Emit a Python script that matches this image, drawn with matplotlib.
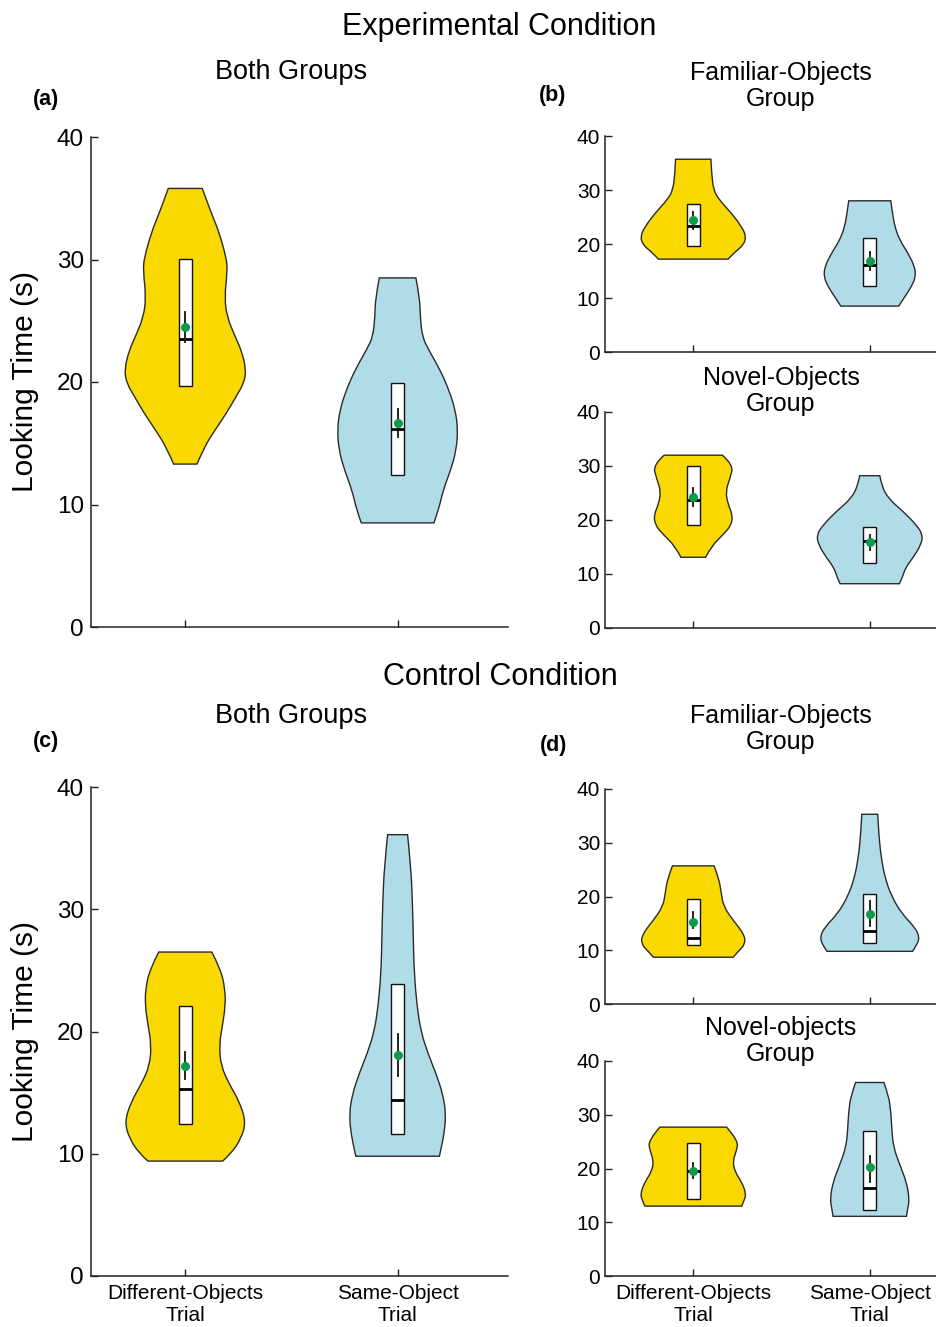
import numpy as np
import matplotlib
matplotlib.use("Agg")
import matplotlib.pyplot as plt
from matplotlib.path import Path
from matplotlib.patches import PathPatch, Rectangle

plt.rcParams['font.family'] = ['Liberation Sans', 'DejaVu Sans']

# ---------------- data ----------------
categories = ["Different-Objects\nTrial", "Same-Object\nTrial"]
yticks = [0, 10, 20, 30, 40]

# violin outlines: y-levels (s) and half-widths (x units)
a_diff_y = [13.3, 14.7, 16.0, 17.4, 18.8, 19.9, 21.0, 22.6, 23.7, 25.3, 26.9, 29.1, 30.1, 32.4, 33.7, 35.8]
a_diff_w = [0.055, 0.090, 0.137, 0.192, 0.239, 0.276, 0.287, 0.264, 0.235, 0.197, 0.185, 0.198, 0.194, 0.156, 0.124, 0.080]
a_same_y = [8.5, 9.5, 11.2, 12.8, 14.4, 16.1, 17.7, 19.3, 21.0, 22.6, 23.7, 25.3, 26.9, 28.5]
a_same_w = [0.171, 0.192, 0.215, 0.250, 0.276, 0.284, 0.272, 0.243, 0.200, 0.147, 0.116, 0.107, 0.104, 0.086]

b1_diff_y = [17.2, 18.3, 19.8, 21.4, 23.2, 25.7, 28.2, 30.0, 33.1, 35.7]
b1_diff_w = [0.198, 0.228, 0.285, 0.300, 0.274, 0.217, 0.146, 0.115, 0.104, 0.100]
b1_same_y = [8.5, 10.2, 12.1, 13.9, 15.8, 18.3, 20.7, 23.2, 25.7, 28.0]
b1_same_w = [0.164, 0.198, 0.236, 0.260, 0.255, 0.217, 0.170, 0.142, 0.129, 0.119]

b2_diff_y = [13.1, 15.2, 17.3, 19.1, 21.0, 22.8, 25.3, 27.7, 30.2, 32.0]
b2_diff_w = [0.070, 0.104, 0.170, 0.217, 0.222, 0.198, 0.183, 0.208, 0.228, 0.165]
b2_same_y = [8.2, 9.3, 11.2, 13.0, 15.5, 17.3, 19.1, 21.6, 24.0, 26.5, 28.2]
b2_same_w = [0.168, 0.184, 0.203, 0.245, 0.292, 0.300, 0.264, 0.189, 0.104, 0.066, 0.057]

c_diff_y = [9.4, 10.0, 11.2, 12.6, 14.3, 15.7, 17.2, 18.9, 20.6, 22.0, 23.4, 25.1, 26.5]
c_diff_w = [0.176, 0.215, 0.262, 0.286, 0.254, 0.207, 0.168, 0.160, 0.176, 0.188, 0.188, 0.167, 0.125]
c_same_y = [9.8, 10.3, 11.5, 13.2, 14.9, 16.6, 18.3, 20.0, 22.0, 24.8, 27.7, 30.5, 33.4, 36.1]
c_same_w = [0.197, 0.203, 0.218, 0.228, 0.213, 0.180, 0.141, 0.110, 0.092, 0.078, 0.074, 0.070, 0.063, 0.047]

d1_diff_y = [8.7, 9.8, 11.1, 12.9, 15.5, 18.1, 20.7, 23.3, 25.7]
d1_diff_w = [0.226, 0.255, 0.294, 0.290, 0.228, 0.172, 0.158, 0.146, 0.118]
d1_same_y = [9.8, 10.8, 12.4, 14.3, 16.9, 20.1, 23.3, 27.1, 31.6, 35.3]
d1_same_w = [0.242, 0.264, 0.283, 0.255, 0.179, 0.123, 0.088, 0.065, 0.051, 0.045]

d2_diff_y = [13.0, 14.0, 15.3, 17.5, 19.4, 21.4, 23.3, 25.2, 27.7]
d2_diff_w = [0.274, 0.288, 0.300, 0.274, 0.236, 0.224, 0.245, 0.255, 0.189]
d2_same_y = [11.1, 12.4, 14.3, 17.5, 20.7, 24.0, 27.2, 30.4, 33.6, 36.0]
d2_same_w = [0.208, 0.214, 0.225, 0.208, 0.170, 0.134, 0.125, 0.120, 0.107, 0.080]

# summary statistics per panel: [Different-Objects, Same-Object]
q1     = {"a": [19.7, 12.4], "b1": [19.7, 12.3], "b2": [19.1, 12.1], "c": [12.45, 11.6], "d1": [11.0, 11.4], "d2": [14.3, 12.2]}
q3     = {"a": [30.0, 19.9], "b1": [27.4, 21.2], "b2": [30.0, 18.7], "c": [22.1, 23.9],  "d1": [19.6, 20.4], "d2": [24.8, 27.0]}
median = {"a": [23.5, 16.2], "b1": [23.3, 16.1], "b2": [23.7, 16.2], "c": [15.3, 14.4],  "d1": [12.2, 13.5], "d2": [19.6, 16.4]}
mean   = {"a": [24.5, 16.65], "b1": [24.4, 16.9], "b2": [24.2, 16.0], "c": [17.15, 18.1], "d1": [15.3, 16.7], "d2": [19.6, 20.2]}
err_lo = {"a": [23.3, 15.5], "b1": [22.7, 15.2], "b2": [22.5, 14.4], "c": [16.1, 16.35], "d1": [14.2, 14.6], "d2": [18.2, 17.5]}
err_hi = {"a": [25.7, 17.8], "b1": [26.0, 18.6], "b2": [25.9, 17.3], "c": [18.3, 19.8],  "d1": [17.2, 19.1], "d2": [21.1, 22.3]}

profiles = {
    "a": [(a_diff_y, a_diff_w), (a_same_y, a_same_w)],
    "b1": [(b1_diff_y, b1_diff_w), (b1_same_y, b1_same_w)],
    "b2": [(b2_diff_y, b2_diff_w), (b2_same_y, b2_same_w)],
    "c": [(c_diff_y, c_diff_w), (c_same_y, c_same_w)],
    "d1": [(d1_diff_y, d1_diff_w), (d1_same_y, d1_same_w)],
    "d2": [(d2_diff_y, d2_diff_w), (d2_same_y, d2_same_w)],
}

violin_colors = ["#FAD900", "#B0DCE8"]
mean_color = "#0E9A4E"

# ---------------- layout ----------------
W, H = 937, 1327
fig = plt.figure(figsize=(W / 100, H / 100), dpi=100)


def rect(left, right, top, bottom):
    return [left / W, 1 - bottom / H, (right - left) / W, (bottom - top) / H]


panels = {
    "a": dict(r=rect(91, 508, 137, 627), xlim=(0.556, 2.52), box=0.0305, fs=17.5, pad=5, xlab=False),
    "b1": dict(r=rect(605, 958, 136, 352), xlim=(0.5, 2.5), box=0.038, fs=15, pad=3.5, xlab=False),
    "b2": dict(r=rect(605, 958, 412, 628), xlim=(0.5, 2.5), box=0.038, fs=15, pad=3.5, xlab=False),
    "c": dict(r=rect(91, 508, 787, 1276), xlim=(0.556, 2.52), box=0.031, fs=17.5, pad=5, xlab=True),
    "d1": dict(r=rect(605, 958, 789, 1004), xlim=(0.5, 2.5), box=0.038, fs=15, pad=3.5, xlab=False),
    "d2": dict(r=rect(605, 958, 1061, 1276), xlim=(0.5, 2.5), box=0.038, fs=15, pad=3.5, xlab=True),
}


def add_smooth(verts, codes, pts):
    n = len(pts)
    if n == 2:
        verts.append(pts[1]); codes.append(Path.LINETO); return
    for i in range(1, n - 1):
        ctrl = pts[i]
        if i == n - 2:
            end = pts[n - 1]
        else:
            end = ((pts[i][0] + pts[i + 1][0]) / 2, (pts[i][1] + pts[i + 1][1]) / 2)
        verts += [ctrl, end]
        codes += [Path.CURVE3, Path.CURVE3]


def violin_patch(x0, ys, ws, color):
    right = [(x0 + w, y) for y, w in zip(ys, ws)]
    left = [(x0 - w, y) for y, w in zip(ys[::-1], ws[::-1])]
    verts = [(x0 - ws[0], ys[0]), right[0]]
    codes = [Path.MOVETO, Path.LINETO]
    add_smooth(verts, codes, right)
    verts.append(left[0]); codes.append(Path.LINETO)
    add_smooth(verts, codes, left)
    verts.append(verts[0]); codes.append(Path.CLOSEPOLY)
    return PathPatch(Path(verts, codes), facecolor=color, edgecolor="#2a2a2a", lw=1.0, zorder=2)


for key, p in panels.items():
    ax = fig.add_axes(p["r"])
    ax.set_xlim(*p["xlim"])
    ax.set_ylim(0, 40)
    for s in ["top", "right"]:
        ax.spines[s].set_visible(False)
    for s in ["left", "bottom"]:
        ax.spines[s].set_linewidth(1.1)
        ax.spines[s].set_color("#222222")
    ax.set_yticks(yticks)
    ax.set_xticks([1, 2])
    ax.tick_params(direction="in", length=5, width=1.0, colors="#222222",
                   labelsize=p["fs"], pad=p["pad"], labelcolor="black")
    ax.tick_params(axis="x", labelsize=15, pad=6)
    if p["xlab"]:
        ax.set_xticklabels(categories, linespacing=1.2)
    else:
        ax.set_xticklabels([])
    bw = p["box"]
    for i in range(2):
        xc = i + 1
        ys, ws = profiles[key][i]
        ax.add_patch(violin_patch(xc, ys, ws, violin_colors[i]))
        ax.add_patch(Rectangle((xc - bw, q1[key][i]), 2 * bw, q3[key][i] - q1[key][i],
                               facecolor="white", edgecolor="#111111", lw=1.0, zorder=3))
        ax.plot([xc - bw, xc + bw], [median[key][i]] * 2, color="black", lw=2.0, zorder=4,
                solid_capstyle="butt")
        ax.plot([xc, xc], [err_lo[key][i], err_hi[key][i]], color="#111111", lw=1.3, zorder=4)
        ax.plot([xc], [mean[key][i]], "o", color=mean_color, ms=5.5, mec=mean_color, zorder=5)


def ftext(x, y, s, size, **kw):
    fig.text(x / W, 1 - y / H, s, fontsize=size, ha="center", va="center", **kw)


ftext(499, 27, "Experimental Condition", 22)
ftext(291, 72, "Both Groups", 19.5)
ftext(781, 86, "Familiar-Objects\nGroup", 18, linespacing=1.07)
ftext(46, 99, "(a)", 15.5, fontweight="bold")
ftext(553, 96, "(b)", 15.5, fontweight="bold")
ftext(781, 391, "Novel-Objects\nGroup", 18, linespacing=1.07)
ftext(500, 677, "Control Condition", 22)
ftext(291, 716, "Both Groups", 19.5)
ftext(46, 742, "(c)", 15.5, fontweight="bold")
ftext(554, 746, "(d)", 15.5, fontweight="bold")
ftext(781, 729, "Familiar-Objects\nGroup", 18, linespacing=1.07)
ftext(781, 1041, "Novel-objects\nGroup", 18, linespacing=1.07)
ftext(25, 382, "Looking Time (s)", 21.5, rotation=90)
ftext(25, 1031, "Looking Time (s)", 21.5, rotation=90)

fig.savefig("out.png", dpi=100)
